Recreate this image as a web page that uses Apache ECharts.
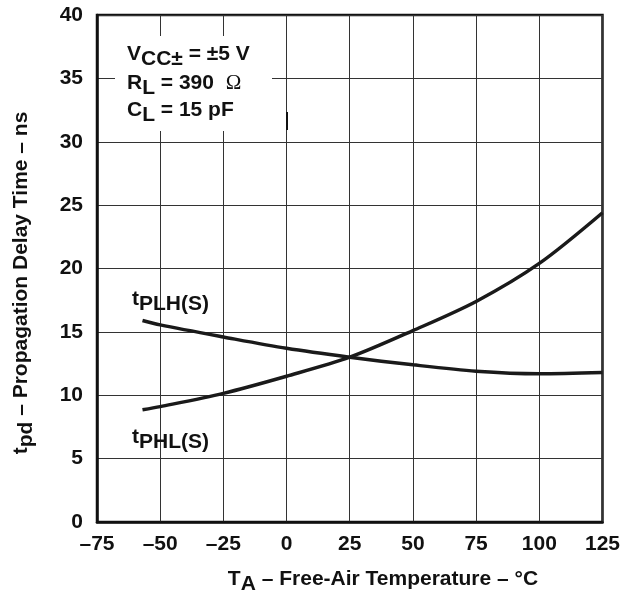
<!DOCTYPE html>
<html>
<head>
<meta charset="utf-8">
<script src="https://cdn.jsdelivr.net/npm/echarts@6/dist/echarts.min.js"></script>
<style>
html,body{margin:0;padding:0;background:#fff;}
#c{width:623px;height:602px;}
</style>
</head>
<body>
<div id="c"></div>
<script>
// Data
var temps = [-57, -50, -25, 0, 25, 50, 75, 100, 125];
var tPLH = [15.9, 15.55, 14.6, 13.7, 13.0, 12.4, 11.9, 11.7, 11.8];
var tPHL = [8.85, 9.1, 10.15, 11.5, 13.0, 15.1, 17.4, 20.4, 24.4];
var xTicks = [-75, -50, -25, 0, 25, 50, 75, 100, 125];
var yTicks = [0, 5, 10, 15, 20, 25, 30, 35, 40];

var FONT = 'Liberation Sans, Arial, Helvetica, sans-serif';
var FS = 21;
var chart = echarts.init(document.getElementById('c'), null, {renderer: 'canvas'});

function pairs(xs, ys){ return xs.map(function(x,i){ return [x, ys[i]]; }); }
function subRich(fs, drop){
  return {
    m:{fontFamily:FONT, fontWeight:'bold', fontSize:fs, fill:'#111', lineHeight:22, verticalAlign:'top'},
    s:{fontFamily:FONT, fontWeight:'bold', fontSize:fs, fill:'#111', lineHeight:22, padding:[drop,0,0,0], verticalAlign:'top'},
    o:{fontFamily:'Liberation Serif, serif', fontSize:fs, fill:'#111', lineHeight:22, verticalAlign:'top'}
  };
}

var axisLabel = {color:'#111', fontFamily: FONT, fontWeight:'bold', fontSize:FS};
var option = {
  backgroundColor: '#fff',
  animation: false,
  grid: {left: 97, right: 20, top: 15, bottom: 80, show: true, borderColor:'#111', borderWidth: 2.5, backgroundColor:'transparent'},
  xAxis: {
    type:'value', min: xTicks[0], max: xTicks[xTicks.length-1], interval: 25,
    axisLine:{show:true, onZero:false, lineStyle:{color:'#111', width:2.5}},
    axisTick:{show:false},
    splitLine:{show:true, lineStyle:{color:'#333', width:1}},
    axisLabel: Object.assign({margin: 12, formatter:function(v){ return v < 0 ? '\u2013' + Math.abs(v) : String(v); }}, axisLabel)
  },
  yAxis: {
    type:'value', min: yTicks[0], max: yTicks[yTicks.length-1], interval: 5,
    axisLine:{show:true, onZero:false, lineStyle:{color:'#111', width:2.5}},
    axisTick:{show:false},
    splitLine:{show:true, lineStyle:{color:'#333', width:1}},
    axisLabel: Object.assign({margin: 14, padding:[6,0,0,0]}, axisLabel)
  },
  series: [
    {type:'line', name:'tPLH(S)', data: pairs(temps, tPLH), smooth: 0.3, showSymbol:false, lineStyle:{color:'#1a1a1a', width:3.5}, z:5},
    {type:'line', name:'tPHL(S)', data: pairs(temps, tPHL), smooth: 0.3, showSymbol:false, lineStyle:{color:'#1a1a1a', width:3.5}, z:5}
  ],
  graphic: [
    {type:'rect', z:50, shape:{x:115, y:36, width:157, height:95}, style:{fill:'#fff'}},
    {type:'rect', z:51, shape:{x:286, y:112, width:2, height:18}, style:{fill:'#111'}},
    {type:'text', z:52, left:127, top:44, style:{
      text: '{m|V}{s|CC\u00B1}{m| = \u00B15 V}', rich: subRich(FS, 5)}},
    {type:'text', z:52, left:127, top:73, style:{
      text: '{m|R}{s|L}{m| = 390  }{o|\u03A9}', rich: subRich(FS, 5)}},
    {type:'text', z:52, left:127, top:100, style:{
      text: '{m|C}{s|L}{m| = 15 pF}', rich: subRich(FS, 5)}},
    {type:'text', z:52, left:132, top:289, style:{
      text:'{m|t}{s|PLH(S)}', rich: subRich(FS, 5)}},
    {type:'text', z:52, left:132, top:427, style:{
      text:'{m|t}{s|PHL(S)}', rich: subRich(FS, 5)}},
    {type:'text', z:52, x:383, y:580, style:{
      text:'{m|T}{s|A}{m| \u2013 Free-Air Temperature \u2013 \u00B0C}',
      align:'center', verticalAlign:'middle', rich: subRich(FS, 5)}},
    {type:'text', z:52, x:22, y:283, rotation: Math.PI/2, style:{
      text:'{m|t}{s|pd}{m| \u2013 Propagation Delay Time \u2013 ns}',
      align:'center', verticalAlign:'middle', rich: subRich(FS, 5)}}
  ]
};
chart.setOption(option);
</script>
</body>
</html>
